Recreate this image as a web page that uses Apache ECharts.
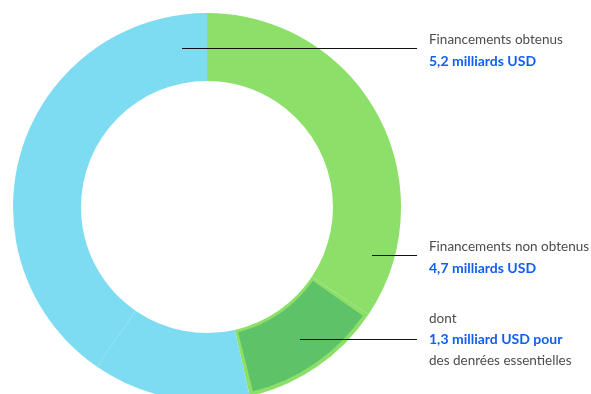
<!DOCTYPE html>
<html><head><meta charset="utf-8">
<script src="https://cdn.jsdelivr.net/npm/echarts@6/dist/echarts.min.js"></script>
<style>html,body{margin:0;padding:0;background:#fff}#c{width:591px;height:394px}</style>
</head><body><div id="c"></div>
<script>
// Slices (clockwise from top)
const sliceNames = ['Non obtenus (autres)', 'Denrées essentielles', 'Obtenus A', 'Obtenus B'];
const sliceValues = [3.4, 1.2, 1.3, 4.0];
const sliceColors = ['#8cdf68', '#8cdf68', '#7edcf2', '#7edcf2'];
const highlightIndex = 1;
// Annotation texts
const labelObtenus = ['Financements obtenus', '5,2 milliards USD'];
const labelNonObtenus = ['Financements non obtenus', '4,7 milliards USD'];
const labelDont = ['dont', '1,3 milliard USD pour', 'des denrées essentielles'];

const chart = echarts.init(document.getElementById('c'), null, {renderer: 'canvas'});
const cx = 207, cy = 207;
const font = 'Lato, sans-serif';
const gray = '#4d4d4d', blue = '#0f5ef6';

function txt(x, y, s, bold) {
  return {type: 'text', x: x, y: y, style: {text: s, fill: bold ? blue : gray,
    verticalAlign: 'middle', align: 'left',
    font: (bold ? 'bold 14px ' : '13.5px ') + font}, z: 10};
}
function line(x1, y, x2) {
  return {type: 'line', shape: {x1: x1, y1: y + 0.5, x2: x2, y2: y + 0.5},
    style: {stroke: '#111', lineWidth: 1}, z: 10};
}

chart.setOption({
  animation: false,
  series: [
    {
      type: 'pie', center: [cx, cy], radius: [126, 194], startAngle: 90,
      silent: true, label: {show: false}, labelLine: {show: false},
      data: sliceValues.map((v, i) => ({name: sliceNames[i], value: v, itemStyle: {color: sliceColors[i]}}))
    },
    {
      type: 'pie', center: [cx, cy], radius: [129, 190], startAngle: 90, padAngle: 2.5,
      silent: true, label: {show: false}, labelLine: {show: false}, z: 3,
      data: sliceValues.map((v, i) => ({name: sliceNames[i], value: v,
        itemStyle: {color: i === highlightIndex ? '#5ec368' : 'rgba(0,0,0,0)'}}))
    }
  ],
  graphic: [
    line(182, 48, 417),
    line(372, 255, 417),
    line(300, 339, 417),
    txt(429, 40, labelObtenus[0], false),
    txt(429, 61, labelObtenus[1], true),
    txt(429, 247, labelNonObtenus[0], false),
    txt(429, 268, labelNonObtenus[1], true),
    txt(429, 319, labelDont[0], false),
    txt(429, 339, labelDont[1], true),
    txt(429, 361, labelDont[2], false)
  ]
});
</script></body></html>
